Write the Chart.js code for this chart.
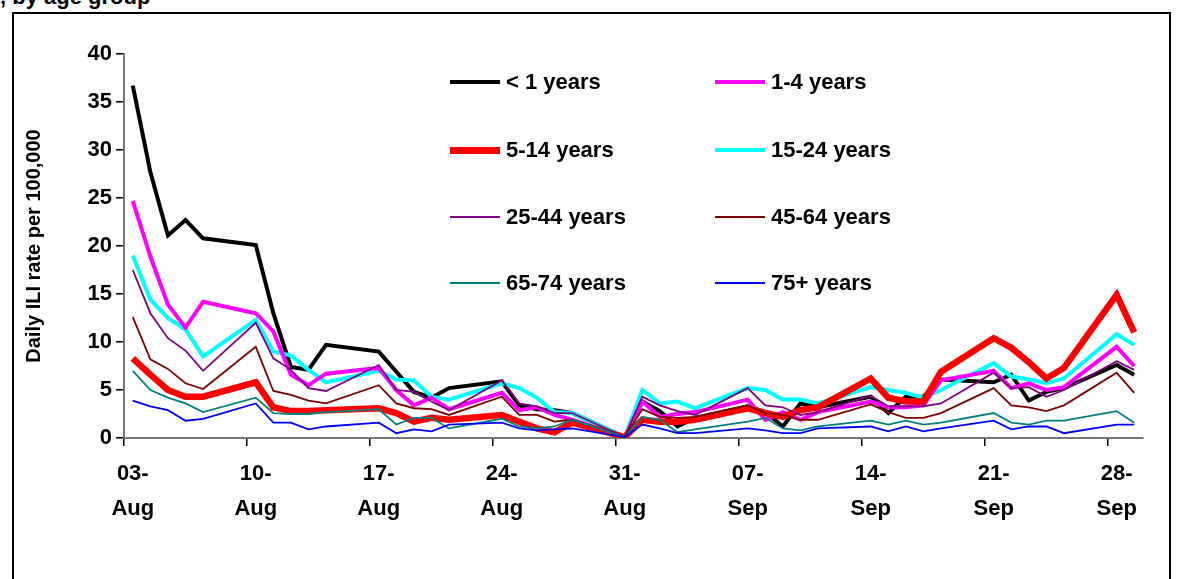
<!DOCTYPE html>
<html>
<head>
<meta charset="utf-8">
<script src="https://cdn.jsdelivr.net/npm/chart.js@4.4.1/dist/chart.umd.min.js"></script>
<style>
  body { margin: 0; background: #fff; font-family: "Liberation Sans", Arial, sans-serif; }
  #wrap { position: relative; width: 1181px; height: 579px; overflow: hidden; }
  #frame { position: absolute; left: 12px; top: 12px; width: 1159px; height: 600px; border: 2px solid #000; box-sizing: border-box; }
  #title { position: absolute; left: 0; top: -16px; font: bold 22px "Liberation Sans", Arial, sans-serif; white-space: nowrap; }
  canvas { position: absolute; left: 0; top: 0; }
  .leg { position: absolute; font: bold 22px "Liberation Sans", Arial, sans-serif; display: flex; align-items: center; }
  .leg span.sw { display: inline-block; width: 50px; margin-right: 6px; }
</style>
</head>
<body>
<div id="wrap">
  <div id="title">, by age group</div>
  <div id="frame"></div>
  <canvas id="c" width="1181" height="579"></canvas>
  <div id="legend"></div>
</div>
<script>
// weekday values only (Mon-Fri), 03-Aug to 29-Sep
var under1 = [36.7,27.7,21.1,22.7,20.8, 20.1,13,7.4,7.1,9.7, 9.0,6.9,4.8,4.2,5.2, 5.9,3.4,3.0,2.9,2.6, 0.1,3.8,2.8,1.2,2.1, 3.3,2.7,1.2,3.6,3.2, 4.3,2.6,4.3,4.3,6.1, 5.8,6.6,3.9,4.8,5.2, 7.6,6.6];
var age1to4 = [24.7,18.9,13.9,11.5,14.2, 13.0,11.1,6.6,5.5,6.7, 7.3,5.0,3.4,4.2,3.0, 4.7,2.9,3.2,2.4,1.9, 0.1,3.8,2.2,2.5,2.7, 4.0,1.9,2.7,1.9,2.7, 3.8,3.2,3.2,3.4,6.0, 7.0,5.2,5.7,5.0,5.3, 9.5,7.5];
var age5to14 = [8.3,6.6,5.0,4.3,4.3, 5.8,3.2,2.8,2.8,2.9, 3.1,2.6,1.7,2.1,1.9, 2.4,1.7,1.0,0.6,1.6, 0.1,1.9,1.7,1.7,1.9, 3.1,2.6,2.2,2.9,3.2, 6.2,4.2,3.8,3.8,6.9, 10.4,9.4,7.9,6.2,7.3, 14.9,11.0];
var age15to24 = [19.0,14.4,12.5,11.3,8.5, 12.3,9.0,8.6,7.1,5.8, 7.0,6.1,6.0,4.3,4.0, 5.7,5.2,4.2,2.7,2.6, 0.1,5.0,3.6,3.8,3.1, 5.2,5.0,4.0,4.0,3.6, 5.3,5.0,4.7,4.2,5.0, 7.8,6.4,6.1,5.7,6.2, 10.8,9.7];
var age25to44 = [17.5,13.0,10.4,9.1,7.0, 12.0,8.3,7.1,5.2,4.9, 7.6,5.0,4.8,3.8,2.9, 6.0,3.6,3.3,2.6,2.6, 0.1,4.3,3.4,2.8,2.4, 5.2,3.4,3.2,2.4,2.7, 4.4,3.3,3.3,3.3,3.6, 6.8,5.2,5.3,4.3,5.0, 8.0,7.1];
var age45to64 = [12.6,8.2,7.2,5.7,5.1, 9.5,4.9,4.5,3.9,3.6, 5.5,3.6,3.1,3.0,2.4, 4.3,2.4,2.4,1.7,1.9, 0.1,3.0,2.2,2.1,2.2, 3.4,2.6,2.4,1.9,1.9, 3.5,2.7,2.1,2.1,2.6, 5.2,3.4,3.2,2.8,3.4, 6.8,4.7];
var age65to74 = [7.0,5.0,4.2,3.6,2.7, 4.2,2.6,2.5,2.5,2.7, 3.0,1.4,2.1,2.1,1.0, 2.0,1.2,1.0,1.2,1.9, 0.1,2.2,1.9,0.6,0.9, 1.7,2.1,1.0,0.8,1.2, 1.8,1.4,1.8,1.4,1.6, 2.6,1.6,1.4,1.8,1.8, 2.8,1.6];
var age75plus = [3.9,3.3,2.9,1.8,2.0, 3.6,1.6,1.6,0.9,1.2, 1.6,0.5,0.9,0.7,1.4, 1.6,1.0,0.8,0.9,1.0, 0.1,1.4,1.0,0.5,0.5, 1.0,0.8,0.5,0.5,1.0, 1.2,0.7,1.2,0.7,1.0, 1.8,0.9,1.2,1.2,0.5, 1.4,1.4];

var seriesNames = ["< 1 years","1-4 years","5-14 years","15-24 years","25-44 years","45-64 years","65-74 years","75+ years"];
var seriesColors = ["#000000","#ff00ff","#ff0000","#00ffff","#800080","#800000","#008080","#0000ff"];
var seriesWidths = [4, 4, 6.5, 4, 1.8, 1.8, 1.8, 1.8];
var tickLabels = [["03-","Aug"],["10-","Aug"],["17-","Aug"],["24-","Aug"],["31-","Aug"],["07-","Sep"],["14-","Sep"],["21-","Sep"],["28-","Sep"]];
var dayCount = 58; // 03-Aug .. 29-Sep

// spread weekday values over all days (weekends empty, lines span them)
function daily(vals) {
  var out = [], k = 0;
  for (var d = 0; d < dayCount; d++) {
    if (d % 7 === 5 || d % 7 === 6) out.push(null);
    else out.push(vals[k++]);
  }
  return out;
}

var days = [];
for (var d = 0; d < dayCount; d++) days.push(d);

var allSeries = [under1, age1to4, age5to14, age15to24, age25to44, age45to64, age65to74, age75plus];
var drawOrder = [7, 6, 5, 4, 2, 1, 3, 0];
var datasets = drawOrder.map(function (i) {
  return {
    label: seriesNames[i],
    data: daily(allSeries[i]),
    borderColor: seriesColors[i],
    backgroundColor: seriesColors[i],
    borderWidth: seriesWidths[i],
    pointRadius: 0,
    tension: 0,
    spanGaps: true,
    borderJoinStyle: "miter"
  };
});

var font = { family: "'Liberation Sans', Arial, sans-serif", size: 22, weight: "bold" };

new Chart(document.getElementById("c"), {
  type: "line",
  data: { labels: days, datasets: datasets },
  options: {
    responsive: false,
    animation: false,
    layout: { padding: { left: 22, top: 54, right: 38, bottom: 0 } },
    plugins: { legend: { display: false }, tooltip: { enabled: false } },
    scales: {
      x: {
        type: "category",
        offset: true,
        afterFit: function (s) { s.height = 579 - 438; },
        grid: {
          offset: true,
          drawOnChartArea: false,
          tickLength: 8,
          color: function (ctx) { return ctx.index % 7 === 0 ? "#000" : "rgba(0,0,0,0)"; },
          lineWidth: 1.5
        },
        border: { color: "#777", width: 2 },
        ticks: {
          autoSkip: false,
          maxRotation: 0,
          color: "#000",
          font: { family: font.family, size: 22, weight: "bold", lineHeight: 1.6 },
          padding: 10,
          callback: function (v, i) { return i % 7 === 0 ? tickLabels[i / 7] : ""; }
        }
      },
      y: {
        min: 0, max: 40,
        afterFit: function (s) { s.width = 102; },
        grid: { drawOnChartArea: false, tickLength: 8, color: "#000", lineWidth: 1.5 },
        border: { color: "#777", width: 2 },
        ticks: { stepSize: 5, color: "#000", font: font, padding: 4 },
        title: { display: true, text: "Daily ILI rate per 100,000", color: "#000",
                 font: { family: font.family, size: 20, weight: "bold" }, padding: 0 }
      }
    }
  }
});

// legend as text in the plot
var legendPos = [[450,83],[715,83],[450,151],[715,151],[450,218],[715,218],[450,284],[715,284]];
var lg = document.getElementById("legend");
seriesNames.forEach(function (n, i) {
  var div = document.createElement("div");
  div.className = "leg";
  div.style.left = legendPos[i][0] + "px";
  div.style.top = (legendPos[i][1] - 14) + "px";
  div.innerHTML = '<span class="sw" style="height:' + Math.round(seriesWidths[i]) + 'px;background:' + seriesColors[i] + '"></span>';
  div.appendChild(document.createTextNode(n));
  lg.appendChild(div);
});
</script>
</body>
</html>
